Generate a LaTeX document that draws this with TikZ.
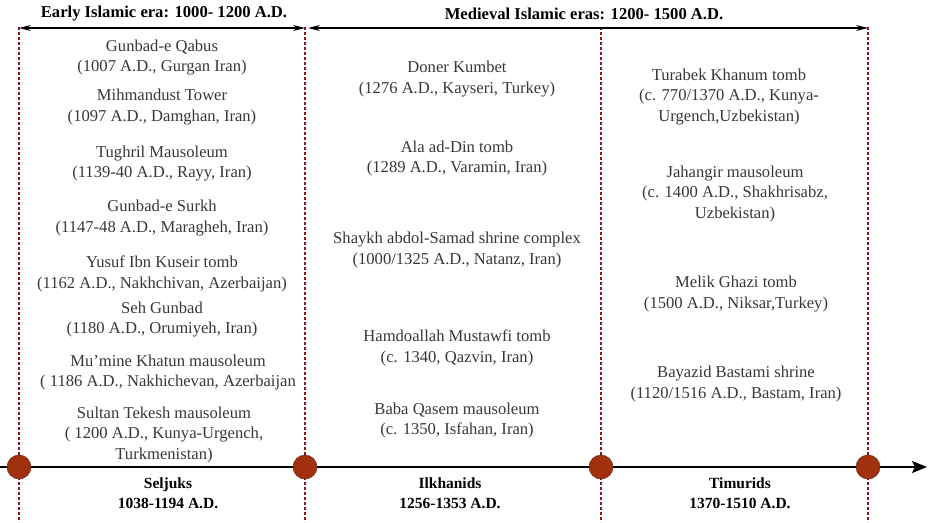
\documentclass[tikz,border=0pt]{standalone}
\usepackage{fontspec}
\setmainfont{Liberation Serif}
\usetikzlibrary{arrows.meta}
\usepackage{xcolor}
\definecolor{dynred}{RGB}{160,48,14}
\definecolor{sepred}{RGB}{145,20,30}
\definecolor{txtgray}{RGB}{55,55,55}

\begin{document}
\begin{tikzpicture}[x=1pt, y=-1pt,
  site/.style={align=center, text=txtgray, inner sep=0, font=\fontsize{16.6}{20.5}\selectfont},
  era/.style={align=center, inner sep=0, font=\fontsize{16.6}{20.5}\selectfont\bfseries},
  dynasty/.style={align=center, inner sep=0, font=\fontsize{15.5}{20}\selectfont\bfseries},
  dyn/.style={circle, fill=dynred, draw=dynred!55!black, minimum size=24pt, inner sep=0},
  sep/.style={sepred, line width=2pt, dash pattern=on 3pt off 2pt}]

\useasboundingbox (0,0) rectangle (928,522);

% era borders
\coordinate (n1) at (19,27);
\coordinate (n2) at (305,27);
\coordinate (n3) at (601,27);
\coordinate (n4) at (868,27);
\coordinate (m1) at (19,522);
\coordinate (m2) at (305,522);
\coordinate (m3) at (601,522);
\coordinate (m4) at (868,522);
\draw[sep] (n1) -- (m1);
\draw[sep] (n2) -- (m2);
\draw[sep] (n3) -- (m3);
\draw[sep] (n4) -- (m4);

% era arrows
\coordinate (a1) at (19,28);
\coordinate (a2) at (305,28);
\coordinate (a3) at (308,28);
\coordinate (a4) at (868,28);
\draw[line width=1.2pt, {Stealth[length=12pt,width=6pt]}-{Stealth[length=12pt,width=6pt]}] (a1) -- (a2);
\draw[line width=1.2pt, {Stealth[length=12pt,width=6pt]}-{Stealth[length=12pt,width=6pt]}] (a3) -- (a4);
\node[era] (early) at (164,14) {Early Islamic era: 1000- 1200 A.D.};
\node[era] (medieval) at (584,14) {Medieval Islamic eras: 1200- 1500 A.D.};

% timeline
\coordinate (t0) at (0,467);
\coordinate (t5) at (927,467);
\draw[line width=2pt, -{Stealth[length=15pt,width=12pt,inset=3pt]}] (t0) -- (t5);
\node[dyn] (c1) at (19,467) {};
\node[dyn] (c2) at (305,467) {};
\node[dyn] (c3) at (601,467) {};
\node[dyn] (c4) at (868,467) {};

\node[dynasty] (seljuks) at (168,493) {Seljuks\\1038-1194 A.D.};
\node[dynasty] (ilkhanids) at (450,493) {Ilkhanids\\1256-1353 A.D.};
\node[dynasty] (timurids) at (740,493) {Timurids\\1370-1510 A.D.};

% Seljuk monuments
\node[site] (qabus) at (162,57.5) {Gunbad-e Qabus\\(1007 A.D., Gurgan Iran)};
\node[site] (mihmandust) at (162,107) {Mihmandust Tower\\(1097 A.D., Damghan, Iran)};
\node[site] (tughril) at (162,163.5) {Tughril Mausoleum\\(1139-40 A.D., Rayy, Iran)};
\node[site] (surkh) at (162,218) {Gunbad-e Surkh\\(1147-48 A.D., Maragheh, Iran)};
\node[site] (yusuf) at (162,274) {Yusuf Ibn Kuseir tomb\\(1162 A.D., Nakhchivan, Azerbaijan)};
\node[site] (seh) at (162,319.5) {Seh Gunbad\\(1180 A.D., Orumiyeh, Iran)};
\node[site] (mumine) at (168,372.5) {Mu’mine Khatun mausoleum\\( 1186 A.D., Nakhichevan, Azerbaijan};
\node[site] (tekesh) at (164,435) {Sultan Tekesh mausoleum\\( 1200 A.D., Kunya-Urgench,\\Turkmenistan)};

% Ilkhanid monuments
\node[site] (doner) at (457,79) {Doner Kumbet\\(1276 A.D., Kayseri, Turkey)};
\node[site] (aladin) at (457,158.5) {Ala ad-Din tomb\\(1289 A.D., Varamin, Iran)};
\node[site] (shaykh) at (457,250) {Shaykh abdol-Samad shrine complex\\(1000/1325 A.D., Natanz, Iran)};
\node[site] (hamdoallah) at (457,348) {Hamdoallah Mustawfi tomb\\(c. 1340, Qazvin, Iran)};
\node[site] (baba) at (457,420.5) {Baba Qasem mausoleum\\(c. 1350, Isfahan, Iran)};

% Timurid monuments
\node[site] (turabek) at (729,97) {Turabek Khanum tomb\\(c. 770/1370 A.D., Kunya-\\Urgench,Uzbekistan)};
\node[site] (jahangir) at (735,194) {Jahangir mausoleum\\(c. 1400 A.D., Shakhrisabz,\\Uzbekistan)};
\node[site] (melik) at (736,294) {Melik Ghazi tomb\\(1500 A.D., Niksar,Turkey)};
\node[site] (bayazid) at (736,384) {Bayazid Bastami shrine\\(1120/1516 A.D., Bastam, Iran)};

\end{tikzpicture}
\end{document}
